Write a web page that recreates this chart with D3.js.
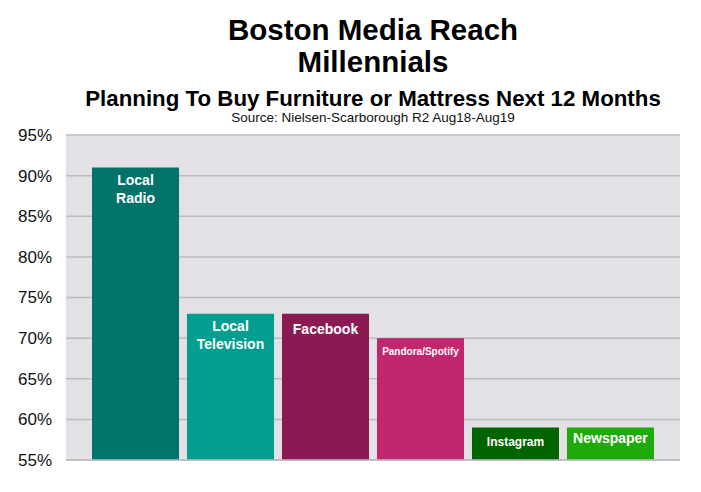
<!DOCTYPE html>
<html><head><meta charset="utf-8">
<script src="https://cdn.jsdelivr.net/npm/d3@7"></script>
<style>body{margin:0;background:#fff}</style>
</head><body>
<svg id="c" width="701" height="492"></svg>
<script>
const categories = ["Local Radio","Local Television","Facebook","Pandora/Spotify","Instagram","Newspaper"];
const labelLines = [["Local","Radio"],["Local","Television"],["Facebook"],["Pandora/Spotify"],["Instagram"],["Newspaper"]];
const values = [91,73,73,70,59,59];
const colors = ["#02736A","#039E90","#8C1A52","#C2266E","#006400","#1EAA0A"];
const ticks = [55,60,65,70,75,80,85,90,95];
const labelSizes = [14,14,14,10,12,14];
const labelDy = [8,7,10,10,10,6];

const svg = d3.select("#c");
const font = "'Liberation Sans', Arial, Helvetica, sans-serif";
const L=66,R=680,T=135,B=460;
const x = d3.scaleBand().domain(categories).range([L,R]).paddingInner(0.084).paddingOuter(0.274);
const y = d3.scaleLinear().domain([55,95]).range([B,T]);

svg.append("rect").attr("x",L).attr("y",T).attr("width",R-L).attr("height",B-T).attr("fill","#E3E1E6");
svg.append("g").selectAll("line").data(ticks).join("line")
  .attr("x1",L).attr("x2",R).attr("y1",d=>y(d)).attr("y2",d=>y(d))
  .attr("stroke","#BDBBBF").attr("stroke-width",1.5);

const yAxis = d3.axisLeft(y).tickValues(ticks).tickFormat(d=>d+"%").tickSize(0).tickPadding(14);
const ga = svg.append("g").attr("transform",`translate(${L},0)`).call(yAxis);
ga.select(".domain").remove();
ga.selectAll("text").attr("font-family",font).attr("font-size",17).attr("fill","#111");

svg.append("g").selectAll("rect").data(categories).join("rect")
  .attr("x",d=>x(d)).attr("width",x.bandwidth())
  .attr("y",(d,i)=>y(values[i])).attr("height",(d,i)=>B-y(values[i]))
  .attr("fill",(d,i)=>colors[i]);

svg.append("line").attr("x1",L).attr("x2",R).attr("y1",B).attr("y2",B).attr("stroke","#BDBBBF").attr("stroke-width",1.5);

categories.forEach((c,i)=>{
  const t = svg.append("text").attr("x",x(c)+x.bandwidth()/2).attr("y",y(values[i])+labelDy[i]+labelSizes[i]*0.7)
    .attr("text-anchor","middle").attr("fill","#fff").attr("font-family",font).attr("font-weight","bold")
    .attr("font-size",labelSizes[i]);
  labelLines[i].forEach((ln,j)=>{
    t.append("tspan").attr("x",x(c)+x.bandwidth()/2).attr("dy",j===0?0:18).text(ln);
  });
});

const cx=(L+R)/2;
svg.append("text").attr("x",cx).attr("y",40).attr("text-anchor","middle").attr("font-family",font).attr("font-weight","bold").attr("font-size",29.5).attr("fill","#000").text("Boston Media Reach");
svg.append("text").attr("x",cx).attr("y",72).attr("text-anchor","middle").attr("font-family",font).attr("font-weight","bold").attr("font-size",29.5).attr("fill","#000").text("Millennials");
svg.append("text").attr("x",cx).attr("y",106).attr("text-anchor","middle").attr("font-family",font).attr("font-weight","bold").attr("font-size",22.3).attr("fill","#000").text("Planning To Buy Furniture or Mattress Next 12 Months");
svg.append("text").attr("x",cx).attr("y",122).attr("text-anchor","middle").attr("font-family",font).attr("font-size",13.5).attr("fill","#111").text("Source: Nielsen-Scarborough R2 Aug18-Aug19");
</script>
</body></html>
